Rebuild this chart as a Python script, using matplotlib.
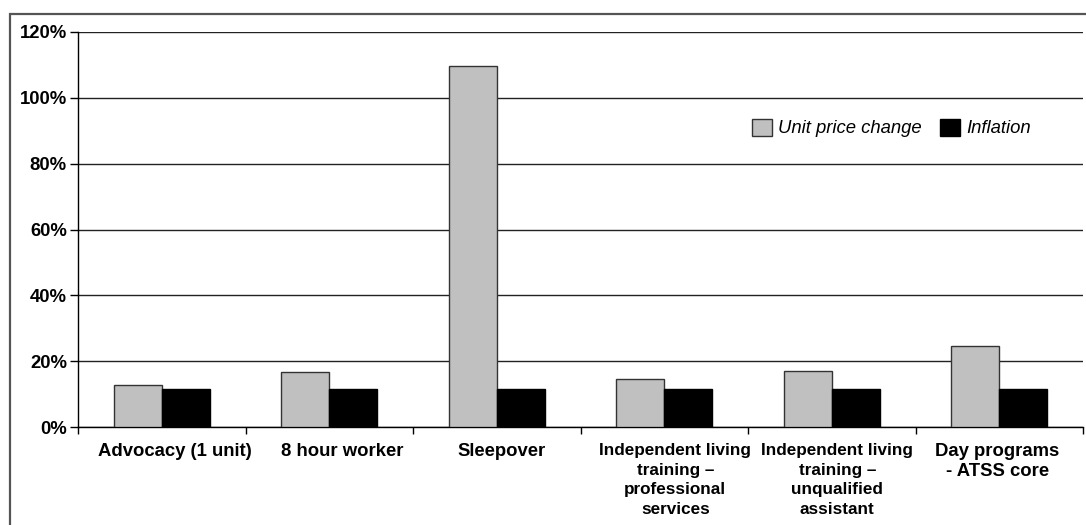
import matplotlib
matplotlib.use("Agg")
import matplotlib.pyplot as plt
from matplotlib.patches import Rectangle, Patch
from matplotlib.ticker import FuncFormatter, MultipleLocator
from matplotlib.transforms import ScaledTranslation
import numpy as np

plt.rcParams['font.family'] = ['Liberation Sans', 'DejaVu Sans']

categories = [
    "Advocacy (1 unit)",
    "8 hour worker",
    "Sleepover",
    "Independent living\ntraining \u2013\nprofessional\nservices",
    "Independent living\ntraining \u2013\nunqualified\nassistant",
    "Day programs\n- ATSS core",
]
unit_price_change = [12.8, 16.8, 109.6, 14.6, 17.1, 24.5]
inflation = [11.5, 11.5, 11.5, 11.5, 11.5, 11.5]
series_names = ["Unit price change", "Inflation"]

# per-label horizontal nudge (pixels), font size and line spacing
label_nudge_px = [13, 13, 5, 11, 5.5, -2]
label_size = [13.3, 13.3, 13.3, 12.3, 12.3, 13.3]
label_spacing = [1.27, 1.27, 1.27, 1.38, 1.38, 1.27]

W, H = 1086, 525
FS = 13.3
fig = plt.figure(figsize=(W / 100, H / 100), dpi=100)

# outer chart frame (open to the right and bottom)
frame = Rectangle((10 / W, -0.05), 1.2, (H - 14) / H + 0.05,
                  transform=fig.transFigure, fill=False,
                  edgecolor="#555555", linewidth=1.6, clip_on=False)
fig.patches.append(frame)

ax = fig.add_axes([78 / W, (H - 427) / H, (1083 - 78) / W, (427 - 32) / H])

x = np.arange(len(categories))
bw = 0.288
ax.bar(x - bw / 2, unit_price_change, width=bw, color="#c0c0c0",
       edgecolor="#333333", linewidth=1.0, zorder=3)
ax.bar(x + bw / 2, inflation, width=bw, color="#000000",
       edgecolor="#000000", linewidth=1.0, zorder=3)

ax.set_xlim(-0.5, len(categories) - 0.5)
ax.set_ylim(0, 120)
ax.yaxis.set_major_locator(MultipleLocator(20))
ax.yaxis.set_major_formatter(FuncFormatter(lambda v, p: f"{v:.0f}%"))
ax.yaxis.grid(True, color="#222222", linewidth=1.0, zorder=0)
ax.set_axisbelow(True)

for s in ["top", "right"]:
    ax.spines[s].set_visible(False)
for s in ["left", "bottom"]:
    ax.spines[s].set_color("#000000")
    ax.spines[s].set_linewidth(1.0)

ax.set_xticks(x)
ax.set_xticklabels(categories, fontsize=FS, fontweight="bold", va="top")
ax.tick_params(axis="x", length=0, pad=11.5)
for lab, dx, fs, ls in zip(ax.get_xticklabels(), label_nudge_px,
                           label_size, label_spacing):
    lab.set_fontsize(fs)
    lab.set_linespacing(ls)
    lab.set_transform(lab.get_transform() +
                      ScaledTranslation(dx / 100, 0, fig.dpi_scale_trans))
ax.set_xticks(np.arange(len(categories) + 1) - 0.5, minor=True)
ax.tick_params(axis="x", which="minor", length=5, direction="out",
               width=1.0, color="#000000")
ax.tick_params(axis="y", length=6, direction="out", width=1.0,
               labelsize=FS, pad=2)
for lab in ax.get_yticklabels():
    lab.set_fontweight("bold")

handles = [Patch(facecolor="#c0c0c0", edgecolor="#333333", linewidth=1.0),
           Patch(facecolor="#000000", edgecolor="#000000", linewidth=1.0)]
leg = ax.legend(handles, series_names, loc="center left",
                bbox_to_anchor=((752 - 78) / (1083 - 78), (427 - 128) / (427 - 32)),
                ncol=2, frameon=False, prop={"size": FS, "style": "italic"},
                handlelength=1.08, handleheight=1.03, handletextpad=0.33,
                columnspacing=1.0, borderaxespad=0, borderpad=0)

fig.savefig("out.png", dpi=100)
